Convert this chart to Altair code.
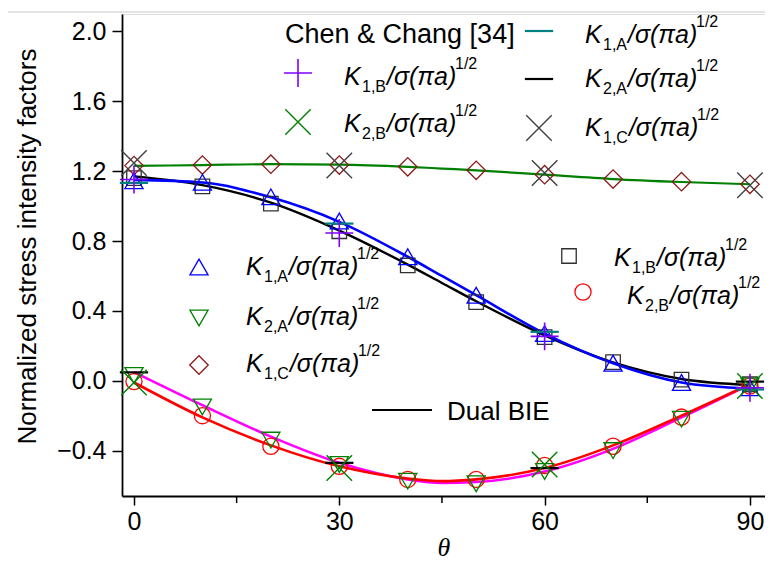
import altair as alt
import pandas as pd

# ---------------- data ----------------
theta_pts = [0, 10, 20, 30, 40, 50, 60, 70, 80, 90]
k1a_pts = [1.145, 1.136, 1.053, 0.915, 0.71, 0.49, 0.27, 0.10, -0.01, -0.04]
k1b_pts = [1.16, 1.113, 1.014, 0.856, 0.66, 0.45, 0.25, 0.107, 0.006, -0.02]
k2a_pts = [0.03, -0.15, -0.34, -0.48, -0.575, -0.59, -0.52, -0.40, -0.22, -0.03]
k2b_pts = [-0.005, -0.20, -0.375, -0.49, -0.565, -0.565, -0.485, -0.375, -0.208, -0.03]
k1c_pts = [1.232, 1.235, 1.24, 1.235, 1.225, 1.205, 1.18, 1.155, 1.14, 1.125]

theta_line = [0, 10, 20, 30, 40, 45, 50, 60, 70, 80, 90]
k1a_line = [1.15, 1.135, 1.05, 0.91, 0.71, 0.60, 0.49, 0.27, 0.10, -0.01, -0.045]
k1b_line = [1.17, 1.12, 1.02, 0.86, 0.665, 0.56, 0.455, 0.26, 0.105, 0.01, -0.025]
k2a_line = [0.05, -0.14, -0.32, -0.47, -0.565, -0.585, -0.58, -0.52, -0.39, -0.21, -0.02]
k2b_line = [-0.01, -0.21, -0.37, -0.49, -0.56, -0.575, -0.565, -0.50, -0.37, -0.20, -0.02]
k1c_line = [1.23, 1.235, 1.24, 1.238, 1.225, 1.215, 1.205, 1.18, 1.155, 1.138, 1.125]

theta_cc = [0, 30, 60, 90]
cc_k1a = [1.133, 0.90, 0.28, -0.05]
cc_k1b = [1.152, 0.846, 0.254, -0.04]
cc_k2a = [0.048, -0.47, -0.50, -0.005]
cc_k2b = [-0.01, -0.50, -0.48, -0.03]
cc_k1c = [1.247, 1.232, 1.19, 1.12]

x_ticks = [0, 30, 60, 90]
x_minor = [15, 45, 75]
y_ticks = [-0.4, 0.0, 0.4, 0.8, 1.2, 1.6, 2.0]

# ---------------- layout ----------------
W, H = 643, 482
X0, Y0 = 122, 14  # page position of plot origin
SANS = "Liberation Sans"

xscale = alt.Scale(domain=[-1.75, 92.2], nice=False, zero=False)
yscale = alt.Scale(domain=[-0.66, 2.1], nice=False, zero=False)
xaxis = alt.Axis(values=x_ticks, title="θ", titleFont="Liberation Serif",
                 titleFontStyle="italic", titleFontWeight="normal", titleFontSize=26,
                 titleColor="black", titlePadding=0, labelFont=SANS, labelFontSize=25,
                 labelColor="black", labelPadding=4, tickColor="black", tickSize=9,
                 tickWidth=1.5, domainColor="black", domainWidth=1.8, grid=False,
                 labelFlush=False)
yaxis = alt.Axis(values=y_ticks, format=".1f", title="Normalized stress intensity factors",
                 titleFont=SANS, titleFontWeight="normal", titleFontSize=26,
                 titleColor="black", titlePadding=16, titleY=232,
                 labelFont=SANS, labelFontSize=25,
                 labelColor="black", labelPadding=6, tickColor="black", tickSize=10,
                 tickWidth=1.5, domainColor="black", domainWidth=1.8, grid=False)

def X():
    return alt.X("t:Q", scale=xscale, axis=xaxis)

def Y():
    return alt.Y("v:Q", scale=yscale, axis=yaxis)

def df(t, v):
    return pd.DataFrame({"t": t, "v": v})

layers = []

# lines (Dual BIE)
for vals, col, sw in [(k1c_line, "#008000", 2.2), (k1b_line, "#000000", 2.4),
                      (k1a_line, "#0000ff", 2.6), (k2a_line, "#ff00ff", 2.6),
                      (k2b_line, "#ff0000", 2.6)]:
    layers.append(alt.Chart(df(theta_line, vals)).mark_line(
        color=col, strokeWidth=sw, interpolate="monotone").encode(x=X(), y=Y()))

PLUS = "M-1,0H1M0,-1V1"
CROSS = "M-1,-1L1,1M-1,1L1,-1"
DASH = "M-1,0H1"

# Dual BIE markers
for vals, shape, col, size in [(k1b_pts, "square", "#303030", 210),
                               (k2b_pts, "circle", "#ff0000", 260),
                               (k1c_pts, "diamond", "#8b1a1a", 340),
                               (k1a_pts, "triangle-up", "#0000ff", 330),
                               (k2a_pts, "triangle-down", "#008000", 330)]:
    layers.append(alt.Chart(df(theta_pts, vals)).mark_point(
        shape=shape, color=col, size=size, filled=False, strokeWidth=1.3,
        opacity=1).encode(x=X(), y=Y()))

# Chen & Chang markers
for vals, shape, col, size, sw in [(cc_k1a, DASH, "#008080", 800, 2.2),
                                   (cc_k2a, DASH, "#000000", 800, 2.2),
                                   (cc_k1c, CROSS, "#404040", 650, 1.4),
                                   (cc_k2b, CROSS, "#008000", 650, 1.4),
                                   (cc_k1b, PLUS, "#8000ff", 780, 1.6)]:
    layers.append(alt.Chart(df(theta_cc, vals)).mark_point(
        shape=shape, color=col, size=size, filled=False, strokeWidth=sw,
        opacity=1).encode(x=X(), y=Y()))

# minor ticks on x axis
layers.append(alt.Chart(pd.DataFrame({"t": x_minor})).mark_rule(
    color="black", strokeWidth=1.5).encode(
    x=X(), y=alt.value(H), y2=alt.value(H + 7)))

# top grey frame line
one = pd.DataFrame({"a": [0]})
layers.append(alt.Chart(one).mark_rule(color="#c8c8c8", strokeWidth=1).encode(
    x=alt.value(-X0), x2=alt.value(773 - X0), y=alt.value(12 - Y0)))

# ---------------- custom legends ----------------
CW = {"0": .556, "1": .556, "2": .556, ",": .278, "A": .667, "B": .667, "C": .722}

def txt(px, py, s, size, italic=False):
    return alt.Chart(one).mark_text(
        text=s, font=SANS, fontSize=size, fontStyle="italic" if italic else "normal",
        align="left", baseline="alphabetic", color="black").encode(
        x=alt.value(px - X0), y=alt.value(py - Y0))

def entry(x0, base, sub):
    out = []
    out.append(txt(x0, base, "K", 25, True))
    sx = x0 + 18
    out.append(txt(sx, base + 7, sub, 16))
    bx = sx + sum(CW[c] for c in sub) * 16 + 1
    out.append(txt(bx, base, "/σ(πa)", 25, True))
    out.append(txt(bx + 68, base - 16, "1/2", 16))
    return out

def sym(px, py, shape, col, size, sw=1.3):
    return alt.Chart(one).mark_point(shape=shape, color=col, size=size, filled=False,
                                     strokeWidth=sw, opacity=1).encode(
        x=alt.value(px - X0), y=alt.value(py - Y0))

leg = []
# Chen & Chang legend
leg.append(txt(285, 43, "Chen & Chang [34]", 27))
leg.append(sym(539, 31, DASH, "#008080", 800, 2.2))
leg += entry(585, 43, "1,A")
leg.append(sym(298, 73, PLUS, "#8000ff", 780, 1.6))
leg += entry(344, 85, "1,B")
leg.append(sym(539, 79, DASH, "#000000", 800, 2.2))
leg += entry(585, 87, "2,A")
leg.append(sym(298, 122, CROSS, "#008000", 650, 1.4))
leg += entry(344, 132, "2,B")
leg.append(sym(539, 128, CROSS, "#404040", 650, 1.4))
leg += entry(585, 136, "1,C")

# Dual BIE legend (left)
leg.append(sym(199, 267, "triangle-up", "#0000ff", 330))
leg += entry(246, 275, "1,A")
leg.append(sym(199, 318, "triangle-down", "#008000", 330))
leg += entry(246, 325, "2,A")
leg.append(sym(199, 365, "diamond", "#8b1a1a", 340))
leg += entry(246, 372, "1,C")
leg.append(alt.Chart(one).mark_rule(color="black", strokeWidth=2.2).encode(
    x=alt.value(372 - X0), x2=alt.value(432 - X0), y=alt.value(410 - Y0)))
leg.append(txt(447, 420, "Dual BIE", 26))

# Dual BIE legend (right)
leg.append(sym(569, 256, "square", "#303030", 210))
leg += entry(614, 266, "1,B")
leg.append(sym(583, 292, "circle", "#ff0000", 260))
leg += entry(627, 304, "2,B")

chart = alt.layer(*layers, *leg).properties(
    width=W, height=H,
    autosize=alt.AutoSizeParams(type="none"),
    padding={"left": X0 - 8, "top": Y0 - 8, "right": 0, "bottom": 570 - 16 - (Y0 - 8) - H},
).configure_view(stroke=None).configure(background="white")

chart.save("out.html", embed_options={"renderer": "svg", "actions": False})
